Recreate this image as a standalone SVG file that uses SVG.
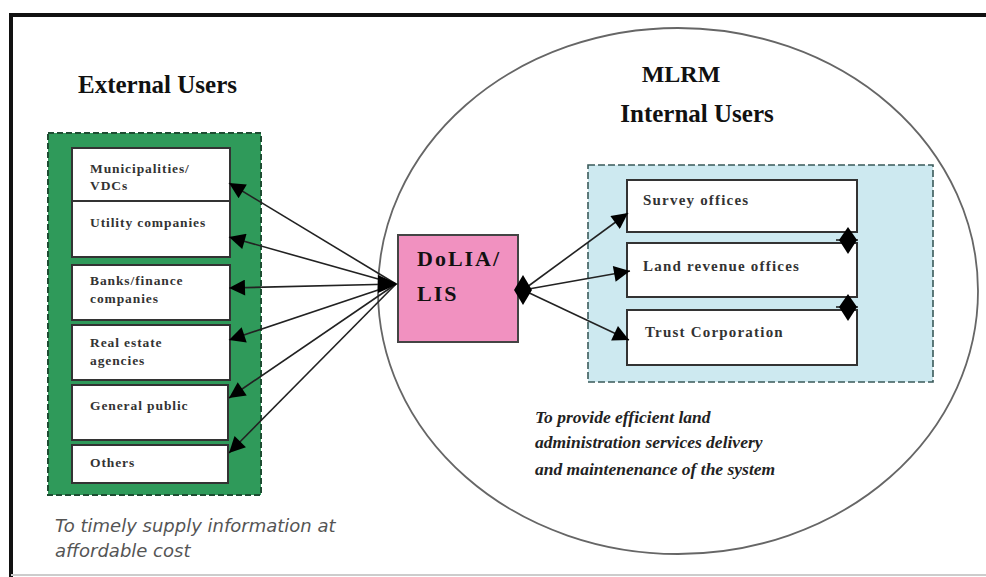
<svg xmlns="http://www.w3.org/2000/svg" width="986" height="577" viewBox="0 0 986 577">
<defs>
<style>
.frame{stroke:#111;stroke-width:4;fill:none}
.box{fill:#fff;stroke:#333;stroke-width:2}
.lbl{font-family:"Liberation Serif","Times New Roman",serif;font-weight:bold;font-size:13.5px;fill:#333;letter-spacing:0.9px}
.ilbl{font-family:"Liberation Serif","Times New Roman",serif;font-weight:bold;font-size:15px;fill:#333;letter-spacing:1.2px}
.head{font-family:"Liberation Serif","Times New Roman",serif;font-weight:bold;font-size:24px;fill:#111}
.conn{stroke:#222;stroke-width:1.6;fill:none}
.note{font-family:"DejaVu Sans","Liberation Sans",sans-serif;font-style:italic;font-size:18px;fill:#555}
.note2{font-family:"Liberation Serif","Times New Roman",serif;font-style:italic;font-weight:bold;font-size:17.5px;fill:#222}
</style>
<marker id="ahb" viewBox="0 0 10 10" refX="10" refY="5" markerWidth="20" markerHeight="16" markerUnits="userSpaceOnUse" orient="auto">
<path d="M0,0 L10,5 L0,10 z" fill="#000"/>
</marker>
</defs>
<rect width="986" height="577" fill="#fff"/>
<g id="frame">
<line x1="9" y1="15" x2="986" y2="15" class="frame"/>
<line x1="11" y1="13" x2="11" y2="577" class="frame"/>
<line x1="11" y1="575" x2="986" y2="575" stroke="#ccc" stroke-width="2"/>
</g>
<g id="mlrm">
<ellipse cx="678" cy="291" rx="300" ry="263" fill="none" stroke="#666" stroke-width="1.8"/>
<text x="681" y="82" class="head" text-anchor="middle">MLRM</text>
<text x="697" y="122" class="head" text-anchor="middle" style="font-size:25px">Internal Users</text>
</g>
<g id="external">
<text x="78" y="93" class="head" style="font-size:25px">External Users</text>
<rect x="48" y="133" width="213" height="362" fill="#2f9a5a" stroke="#1d4d32" stroke-width="2" stroke-dasharray="6,3"/>
</g>
<g id="n-municipalities">
<rect x="72" y="148" width="158" height="53" class="box"/>
<text x="90" y="173" class="lbl">Municipalities/</text>
<text x="90" y="190" class="lbl">VDCs</text>
</g>
<g id="n-utility">
<rect x="72" y="201" width="158" height="56" class="box"/>
<text x="90" y="227" class="lbl">Utility companies</text>
</g>
<g id="n-banks">
<rect x="72" y="265" width="158" height="55" class="box"/>
<text x="90" y="285" class="lbl">Banks/finance</text>
<text x="90" y="303" class="lbl">companies</text>
</g>
<g id="n-realestate">
<rect x="72" y="325" width="158" height="55" class="box"/>
<text x="90" y="347" class="lbl">Real estate</text>
<text x="90" y="365" class="lbl">agencies</text>
</g>
<g id="n-public">
<rect x="72" y="385" width="156" height="55" class="box"/>
<text x="90" y="410" class="lbl">General public</text>
</g>
<g id="n-others">
<rect x="72" y="445" width="156" height="38" class="box"/>
<text x="90" y="467" class="lbl">Others</text>
</g>
<g id="internal">
<rect x="588" y="165" width="345" height="217" fill="#cde9f0" stroke="#3a5a5a" stroke-width="1.6" stroke-dasharray="7,3"/>
</g>
<g id="n-survey">
<rect x="627" y="180" width="230" height="52" class="box"/>
<text x="643" y="205" class="ilbl">Survey offices</text>
</g>
<g id="n-landrevenue">
<rect x="627" y="243" width="230" height="54" class="box"/>
<text x="643" y="271" class="ilbl">Land revenue offices</text>
</g>
<g id="n-trust">
<rect x="627" y="310" width="230" height="55" class="box"/>
<text x="645" y="337" class="ilbl">Trust Corporation</text>
</g>
<g id="n-dolia">
<rect x="398" y="235" width="120" height="107" fill="#f191c0" stroke="#444" stroke-width="2"/>
<text x="417" y="266" class="head" style="font-size:22px;letter-spacing:2px">DoLIA/</text>
<text x="417" y="301" class="head" style="font-size:22px;letter-spacing:2px">LIS</text>
</g>
<g id="connectors">
<line x1="396" y1="284" x2="229" y2="183" class="conn" marker-end="url(#ahb)"/>
<line x1="396" y1="284" x2="229" y2="237" class="conn" marker-end="url(#ahb)"/>
<line x1="396" y1="284" x2="229" y2="288" class="conn" marker-end="url(#ahb)"/>
<line x1="396" y1="284" x2="229" y2="340" class="conn" marker-end="url(#ahb)"/>
<line x1="396" y1="284" x2="229" y2="398" class="conn" marker-end="url(#ahb)"/>
<line x1="396" y1="284" x2="229" y2="453" class="conn" marker-end="url(#ahb)"/>
<path d="M378,275 L398,284 L378,293 z" fill="#000"/>
<line x1="523" y1="290" x2="628" y2="213" class="conn" marker-end="url(#ahb)"/>
<line x1="523" y1="290" x2="630" y2="271" class="conn" marker-end="url(#ahb)"/>
<line x1="523" y1="290" x2="629" y2="340" class="conn" marker-end="url(#ahb)"/>
<path d="M523,275 L532,290 L523,305 L514,290 z" fill="#000"/>
<line x1="836" y1="240" x2="858" y2="240" class="conn"/>
<path d="M848,227 L857,240 L848,254 L839,240 z" fill="#000"/>
<line x1="836" y1="307" x2="858" y2="307" class="conn"/>
<path d="M848,294 L857,307 L848,321 L839,307 z" fill="#000"/>
</g>
<g id="notes">
<text x="55" y="532" class="note">To timely supply information at</text>
<text x="55" y="557" class="note">affordable cost</text>
<text x="535" y="423" class="note2">To provide efficient land</text>
<text x="535" y="448" class="note2">administration services delivery</text>
<text x="535" y="475" class="note2">and maintenenance of the system</text>
</g>
</svg>
